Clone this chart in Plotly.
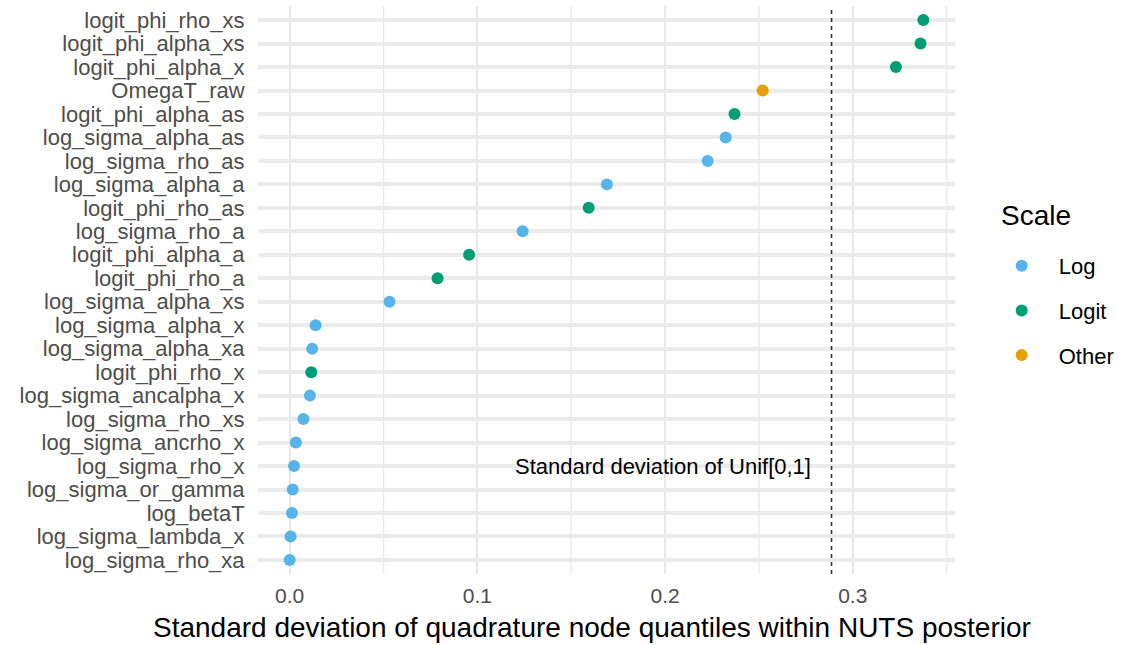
import plotly.graph_objects as go

# parameters listed bottom -> top
params = [
    "log_sigma_rho_xa", "log_sigma_lambda_x", "log_betaT", "log_sigma_or_gamma",
    "log_sigma_rho_x", "log_sigma_ancrho_x", "log_sigma_rho_xs", "log_sigma_ancalpha_x",
    "logit_phi_rho_x", "log_sigma_alpha_xa", "log_sigma_alpha_x", "log_sigma_alpha_xs",
    "logit_phi_rho_a", "logit_phi_alpha_a", "log_sigma_rho_a", "logit_phi_rho_as",
    "log_sigma_alpha_a", "log_sigma_rho_as", "log_sigma_alpha_as", "logit_phi_alpha_as",
    "OmegaT_raw", "logit_phi_alpha_x", "logit_phi_alpha_xs", "logit_phi_rho_xs",
]
sd_values = [
    0.0000, 0.0005, 0.0012, 0.0016,
    0.0023, 0.0033, 0.0073, 0.0108,
    0.0115, 0.0120, 0.0138, 0.0532,
    0.0788, 0.0956, 0.1241, 0.1593,
    0.1690, 0.2227, 0.2323, 0.2370,
    0.2520, 0.3230, 0.3361, 0.3376,
]
scales = [
    "Log", "Log", "Log", "Log",
    "Log", "Log", "Log", "Log",
    "Logit", "Log", "Log", "Log",
    "Logit", "Logit", "Log", "Logit",
    "Log", "Log", "Log", "Logit",
    "Other", "Logit", "Logit", "Logit",
]
scale_names = ["Log", "Logit", "Other"]
scale_colors = ["#56B4E9", "#009E73", "#E69F00"]
unif_sd = 0.2887  # sd of Unif[0,1]
x_ticks = [0.0, 0.1, 0.2, 0.3]
x_tick_labels = ["0.0", "0.1", "0.2", "0.3"]
x_minor = [0.05, 0.15, 0.25, 0.35]

FONT = "Liberation Sans, Arial, Helvetica, sans-serif"
PL, PR, PT, PB = 258, 955, 6, 574  # panel edges in px

fig = go.Figure()

for name, col in zip(scale_names, scale_colors):
    xs = [v for v, s in zip(sd_values, scales) if s == name]
    ys = [p for p, s in zip(params, scales) if s == name]
    fig.add_trace(go.Scatter(
        x=xs, y=ys, mode="markers", name=name, legendgroup=name,
        marker=dict(color=col, size=12, line=dict(width=0)),
    ))

# minor vertical grid lines
for m in x_minor:
    fig.add_vline(x=m, line=dict(color="#EBEBEB", width=1.6), layer="below")

fig.add_vline(x=unif_sd, line=dict(color="#333333", width=1.6, dash="4px,4px"))

fig.add_annotation(
    x=unif_sd - 0.01, y="log_sigma_rho_x", text="Standard deviation of Unif[0,1]",
    xanchor="right", yanchor="middle", showarrow=False,
    font=dict(family=FONT, size=22, color="#000000"),
)

# legend title as separate text
fig.add_annotation(
    xref="paper", yref="paper", x=(999 - PL) / (PR - PL), y=1 - (215 - PT) / (PB - PT),
    text="Scale", xanchor="left", yanchor="middle", showarrow=False,
    font=dict(family=FONT, size=28, color="#000000"),
)

# x-axis title
fig.add_annotation(
    xref="paper", yref="paper", x=(592 - PL) / (PR - PL), y=1 - (627 - PT) / (PB - PT),
    text="Standard deviation of quadrature node quantiles within NUTS posterior",
    xanchor="center", yanchor="middle", showarrow=False,
    font=dict(family=FONT, size=28, color="#000000"),
)

lo = min(sd_values); hi = max(sd_values)
pad = 0.05 * (hi - lo)

fig.update_layout(
    width=1123, height=645,
    margin=dict(l=PL, r=1123 - PR, t=PT, b=645 - PB),
    plot_bgcolor="white", paper_bgcolor="white",
    font=dict(family=FONT),
    showlegend=True,
    legend=dict(
        font=dict(size=22, color="#000000"),
        xref="container", yref="container",
        x=984.7 / 1123, y=1 - 245 / 645, xanchor="left", yanchor="top",
        tracegroupgap=13, itemwidth=64,
        bgcolor="rgba(0,0,0,0)",
    ),
    xaxis=dict(
        range=[lo - pad, hi + pad],
        tickvals=x_ticks, ticktext=x_tick_labels,
        showgrid=True, gridcolor="#E8E8E8", gridwidth=2.4,
        zeroline=False, showline=False,
        ticks="outside", ticklen=3, tickcolor="rgba(0,0,0,0)",
        tickfont=dict(size=21, color="#4D4D4D"),
    ),
    yaxis=dict(
        type="category", categoryorder="array", categoryarray=params,
        tickmode="linear", dtick=1,
        range=[-0.6, len(params) - 0.4],
        showgrid=True, gridcolor="#EBEBEB", gridwidth=4,
        zeroline=False, showline=False,
        ticks="outside", ticklen=8, tickcolor="rgba(0,0,0,0)",
        tickfont=dict(size=22, color="#4D4D4D"),
    ),
)

fig.write_html("out.html")
